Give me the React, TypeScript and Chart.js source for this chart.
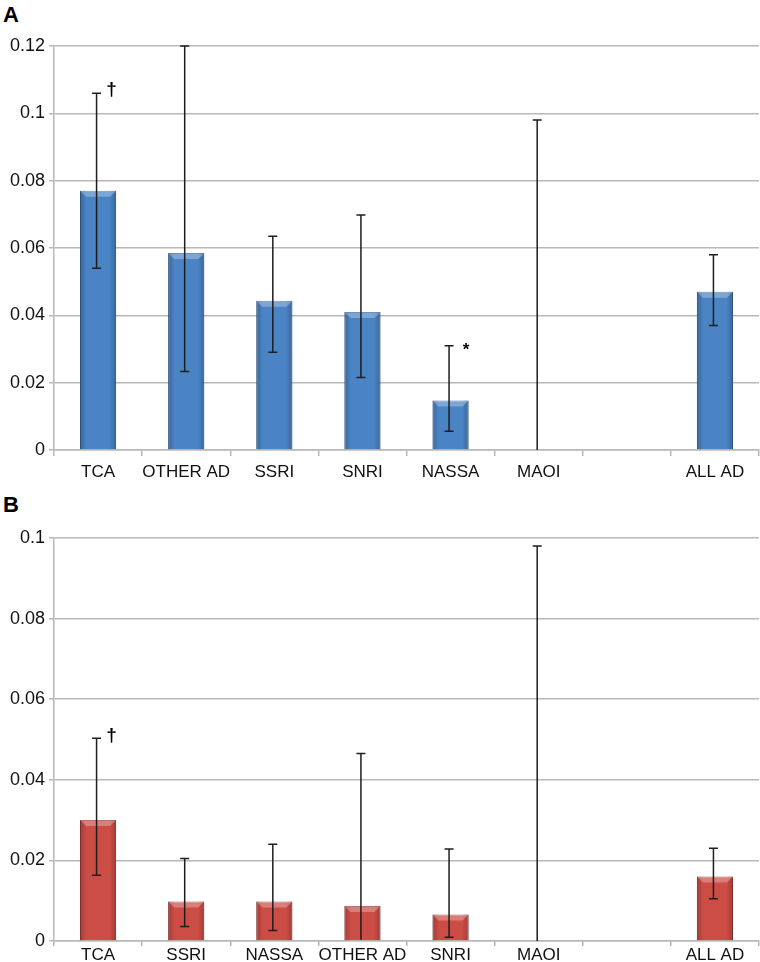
import React, { useEffect, useRef } from "react";
import { Chart, registerables } from "chart.js";
Chart.register(...registerables);

// ---- Panel A data ----
const categoriesA = ["TCA", "OTHER AD", "SSRI", "SNRI", "NASSA", "MAOI", "", "ALL AD"];
const valuesA = [0.077, 0.0585, 0.0443, 0.041, 0.0147, 0, null, 0.047];
const lowA = [0.054, 0.0233, 0.029, 0.0215, 0.0056, 0, null, 0.037];
const highA = [0.106, 0.12, 0.0635, 0.0698, 0.031, 0.098, null, 0.058];
const marksA = ["†", "", "", "", "*", "", "", ""];
const ticksA = { max: 0.12, step: 0.02 };

// ---- Panel B data ----
const categoriesB = ["TCA", "SSRI", "NASSA", "OTHER AD", "SNRI", "MAOI", "", "ALL AD"];
const valuesB = [0.03, 0.0098, 0.0098, 0.0087, 0.0066, 0, null, 0.016];
const lowB = [0.0163, 0.0036, 0.0026, 0.0003, 0.0009, 0, null, 0.0105];
const highB = [0.0503, 0.0205, 0.024, 0.0465, 0.0228, 0.098, null, 0.023];
const marksB = ["†", "", "", "", "", "", "", ""];
const ticksB = { max: 0.1, step: 0.02 };

const FONT = "'Liberation Sans', Arial, Helvetica, sans-serif";
const GRID = "#b8b8b8";

type PanelProps = {
  top: number;
  height: number;
  padTop: number;
  xAxisH: number;
  xTickLen: number;
  xTickPad: number;
  categories: string[];
  values: (number | null)[];
  low: (number | null)[];
  high: (number | null)[];
  marks: string[];
  max: number;
  step: number;
  color: string;
  border: string;
  letter: string;
  letterTop: number;
};

function Panel(p: PanelProps) {
  const ref = useRef<HTMLCanvasElement | null>(null);
  useEffect(() => {
    if (!ref.current) return;
    const overlay = {
      id: "errbars",
      afterDatasetsDraw(chart: any) {
        const ctx = chart.ctx as CanvasRenderingContext2D;
        const meta = chart.getDatasetMeta(0);
        const ys = chart.scales.y;
        ctx.save();
        // bevel shading on bars
        meta.data.forEach((bar: any, i: number) => {
          const v = p.values[i];
          if (v == null || v <= 0) return;
          const { x, y, base, width } = bar.getProps(["x", "y", "base", "width"], true);
          const l = x - width / 2;
          const r = x + width / 2;
          const h = base - y;
          const g = ctx.createLinearGradient(l, 0, r, 0);
          g.addColorStop(0, "rgba(0,0,0,0.22)");
          g.addColorStop(0.18, "rgba(0,0,0,0)");
          g.addColorStop(0.82, "rgba(0,0,0,0)");
          g.addColorStop(1, "rgba(0,0,0,0.22)");
          ctx.fillStyle = g;
          ctx.fillRect(l, y, width, h);
          const bh = Math.min(6, h / 2);
          ctx.beginPath();
          ctx.moveTo(l, y);
          ctx.lineTo(r, y);
          ctx.lineTo(r - bh, y + bh);
          ctx.lineTo(l + bh, y + bh);
          ctx.closePath();
          ctx.fillStyle = "rgba(255,255,255,0.28)";
          ctx.fill();
        });
        // error bars
        ctx.strokeStyle = "#1e1e1e";
        ctx.lineWidth = 1.5;
        meta.data.forEach((bar: any, i: number) => {
          const lo = p.low[i];
          const hi = p.high[i];
          if (lo == null || hi == null) return;
          const x = chart.scales.x.getPixelForValue(i) - 1.5;
          const yl = ys.getPixelForValue(lo);
          const yh = ys.getPixelForValue(hi);
          ctx.beginPath();
          ctx.moveTo(x, yl);
          ctx.lineTo(x, yh);
          ctx.moveTo(x - 4.5, yh);
          ctx.lineTo(x + 4.5, yh);
          if (lo > 0.0005) {
            ctx.moveTo(x - 4.5, yl);
            ctx.lineTo(x + 4.5, yl);
          }
          ctx.stroke();
          const m = p.marks[i];
          if (m) {
            ctx.fillStyle = "#000";
            ctx.textAlign = "center";
            ctx.textBaseline = "middle";
            if (m === "*") {
              ctx.font = `bold 17px ${FONT}`;
              ctx.fillText(m, x + 17, yh + 5);
            } else {
              ctx.font = `bold 19px ${FONT}`;
              ctx.fillText(m, x + 15, yh - 3);
            }
          }
        });
        ctx.restore();
      },
    };
    const chart = new Chart(ref.current, {
      type: "bar",
      data: {
        labels: p.categories,
        datasets: [
          {
            data: p.values as any,
            backgroundColor: p.color,
            borderColor: p.border,
            borderWidth: 1,
            barPercentage: 0.41,
            categoryPercentage: 1,
          },
        ],
      },
      options: {
        responsive: false,
        animation: false,
        devicePixelRatio: 1,
        layout: { padding: { top: p.padTop, right: 1, left: 0, bottom: 0 } },
        plugins: { legend: { display: false }, tooltip: { enabled: false }, title: { display: false } },
        scales: {
          x: {
            offset: true,
            grid: {
              offset: true,
              drawOnChartArea: false,
              drawTicks: true,
              tickLength: p.xTickLen,
              color: GRID,
              lineWidth: 1.5,
            },
            border: { color: GRID, width: 1.5 },
            ticks: {
              autoSkip: false,
              maxRotation: 0,
              minRotation: 0,
              padding: p.xTickPad,
              color: "#111",
              font: { family: FONT, size: 17 },
            },
            afterFit: (s: any) => {
              s.height = p.xAxisH;
            },
          },
          y: {
            min: 0,
            max: p.max,
            grid: { color: GRID, lineWidth: 1.5, tickLength: 5, drawTicks: true },
            border: { color: GRID, width: 1.5 },
            ticks: {
              stepSize: p.step,
              padding: 4,
              color: "#111",
              font: { family: FONT, size: 18 },
              callback: (v: any) => String(+(+v).toFixed(3)),
            },
            afterFit: (s: any) => {
              s.width = 54;
            },
          },
        },
      },
      plugins: [overlay],
    });
    return () => chart.destroy();
  }, []);
  return (
    <>
      <div
        style={{
          position: "absolute",
          left: 3,
          top: p.letterTop,
          fontFamily: FONT,
          fontWeight: "bold",
          fontSize: 22,
          lineHeight: "22px",
          color: "#000",
        }}
      >
        {p.letter}
      </div>
      <canvas
        ref={ref}
        width={760}
        height={p.height}
        style={{ position: "absolute", left: 0, top: p.top, width: 760, height: p.height, display: "block" }}
      />
    </>
  );
}

export default function App() {
  return (
    <div style={{ position: "absolute", left: 0, top: 0, width: 760, height: 962, background: "#fff", overflow: "hidden" }}>
      <Panel
        top={0}
        height={490}
        padTop={46}
        xAxisH={40}
        xTickLen={6}
        xTickPad={6}
        categories={categoriesA}
        values={valuesA}
        low={lowA}
        high={highA}
        marks={marksA}
        max={ticksA.max}
        step={ticksA.step}
        color="#4a84c4"
        border="#3a679c"
        letter="A"
        letterTop={4}
      />
      <Panel
        top={490}
        height={472}
        padTop={48}
        xAxisH={21}
        xTickLen={5}
        xTickPad={-1}
        categories={categoriesB}
        values={valuesB}
        low={lowB}
        high={highB}
        marks={marksB}
        max={ticksB.max}
        step={ticksB.step}
        color="#cc4d46"
        border="#a33a35"
        letter="B"
        letterTop={494}
      />
    </div>
  );
}
